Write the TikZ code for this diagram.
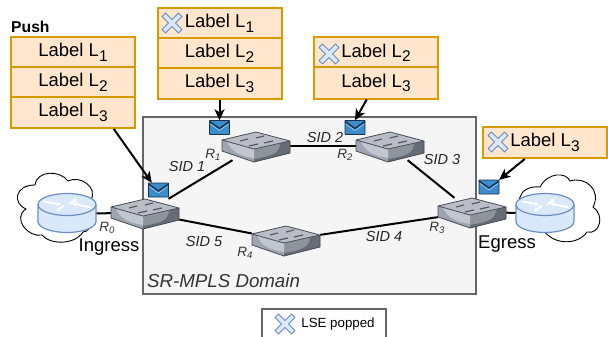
\documentclass[tikz,border=0pt]{standalone}
\usepackage{fontspec}
\setmainfont{Liberation Sans}
\usetikzlibrary{arrows.meta}
\definecolor{lblfill}{HTML}{FFE6CC}
\definecolor{lbldraw}{HTML}{D79B00}
\definecolor{bluefill}{HTML}{DAE8FC}
\definecolor{bluedraw}{HTML}{6C8EBF}
\definecolor{envfill}{HTML}{3C8DCB}
\definecolor{envdraw}{HTML}{17324A}
\definecolor{swtop}{HTML}{B9BDC7}
\definecolor{swleft}{HTML}{9EA4B0}
\definecolor{swleftb}{HTML}{C2C6CF}
\definecolor{swright}{HTML}{8F949B}
\definecolor{swdark}{HTML}{666C75}
\definecolor{swedge}{HTML}{4A4E55}
\newcommand{\lab}[1]{Label L\raisebox{-4.5pt}{\fontsize{15.5}{15}\selectfont #1}}
\newcommand{\rname}[2]{#1\raisebox{-2.5pt}{\fontsize{9.5}{10}\selectfont #2}}
\tikzset{
  x=1pt,y=-1pt,
  stackrow/.style={draw=lbldraw,fill=lblfill,line width=2pt,minimum width=124pt,inner sep=0pt,font=\fontsize{18.5}{20}\selectfont},
  rowa/.style={stackrow,minimum height=31pt},
  swnode/.style={minimum width=68pt,minimum height=28pt,inner sep=0pt},
  envnode/.style={minimum width=20pt,minimum height=14pt,inner sep=0pt},
  rtnode/.style={minimum width=58pt,minimum height=40pt,inner sep=0pt},
  link/.style={line width=2pt,black},
  flow/.style={line width=2pt,black,-{Stealth[length=11pt,width=10pt,inset=3pt]}},
  sidlabel/.style={font=\fontsize{14.5}{16}\selectfont\itshape,text=black!85,inner sep=0pt},
  rlabel/.style={font=\fontsize{13.5}{15}\selectfont\itshape,text=black!80,inner sep=0pt},
  biglabel/.style={font=\fontsize{18.5}{20}\selectfont,inner sep=0pt},
  switchpic/.pic={
    \fill[swleft] (-34,-6) -- (-2,3) -- (-2,16) -- (-34,5) -- cycle;
    \fill[swright] (-2,3) -- (34,-5) -- (34,7) -- (-2,16) -- cycle;
    \fill[swdark] (24,-3) -- (34,-5) -- (34,7) -- (-2,16) -- (-2,13) .. controls (15,10) and (24,8) .. cycle;
    \fill[swleftb] (-29,-4.5) -- (-2,3) -- (-2,12) .. controls (-15,10) and (-25,6) .. cycle;
    \fill[swtop,draw=swedge,line width=0.8pt,line join=round] (-34,-6) -- (0,-14) -- (34,-5) -- (-2,3) -- cycle;
    \draw[swedge,line width=0.8pt,line join=round] (-34,-6) -- (-34,5) -- (-2,16) -- (34,7) -- (34,-5);
    \draw[black!65,line width=1.2pt] (-16,-5) -- (-8,-7) (0,-8) -- (8,-10) (-7,0) -- (2,-2) (8,-3) -- (17,-5);
  },
  routerpic/.pic={
    \draw[fill=bluefill,draw=bluedraw,line width=1.2pt] (-29,-9) -- (-29,8) arc[start angle=180,end angle=0,x radius=29,y radius=11] -- (29,-9);
    \draw[fill=bluefill,draw=bluedraw,line width=1.2pt] (0,-9) ellipse[x radius=29,y radius=11];
    \draw[white,line width=1.8pt,-{Stealth[length=4.5pt,width=5pt]}] (-23,-12) -- (-6,-9);
    \draw[white,line width=1.8pt,-{Stealth[length=4.5pt,width=5pt]}] (2,-9) -- (10,-15);
    \draw[white,line width=1.8pt,-{Stealth[length=4.5pt,width=5pt]}] (24,-6) -- (5,-10);
    \draw[white,line width=1.8pt,-{Stealth[length=4.5pt,width=5pt]}] (-3,-8) -- (-11,-2);
  },
  crosspic/.pic={
    \draw[fill=bluefill,draw=bluedraw,line width=0.9pt,line join=round]
      (-10,-6.5) -- (-6.5,-10) -- (0,-3.5) -- (6.5,-10) -- (10,-6.5) -- (3.5,0) -- (10,6.5) -- (6.5,10) -- (0,3.5) -- (-6.5,10) -- (-10,6.5) -- (-3.5,0) -- cycle;
  },
  envpic/.pic={
    \draw[fill=envfill,draw=envdraw,line width=0.9pt,line join=round,rounded corners=0.6pt] (-10,-7) rectangle (10,7);
    \draw[envdraw,line width=1.4pt,line join=round] (-10,-6) -- (0,1) -- (10,-6);
    \draw[white!60!envfill,line width=0.6pt,line join=round] (-9,-3.5) -- (0,3) -- (9,-3.5);
  }
}
\begin{document}
\begin{tikzpicture}
\clip (0,0) rectangle (608,337);
\fill[white] (0,0) rectangle (608,337);
% domain
\node[draw=black!60,fill=black!4,line width=2pt,minimum width=333pt,minimum height=177pt,inner sep=0pt] (domain) at (309.5,205.5) {};
\node[biglabel,anchor=west,text=black!80,font=\fontsize{18.7}{20}\selectfont\itshape] (domtxt) at (147,281) {SR-MPLS Domain};
% clouds
\draw[black,line width=0.9pt,fill=white] (35,185) .. controls (37,170) and (60,170) .. (68,181) .. controls (80,175) and (98,187) .. (91,200) .. controls (95,215) and (92,232) .. (83,232) .. controls (75,245) and (50,245) .. (42,235) .. controls (28,238) and (12,218) .. (26,209) .. controls (12,203) and (15,185) .. cycle;
\draw[black,line width=0.9pt,fill=white] (520,197) .. controls (522,190) and (530,186) .. (540,187) .. controls (548,172) and (566,172) .. (570,181) .. controls (585,176) and (602,190) .. (593,207) .. controls (605,215) and (600,235) .. (587,232) .. controls (578,245) and (555,245) .. (545,232) .. controls (530,232) and (515,215) .. cycle;
% anchor nodes
\node[rtnode] (r0) at (67,213.5) {};
\node[rtnode] (r5) at (545,213.5) {};
\node[swnode] (sw0) at (145,213) {};
\node[swnode] (sw1) at (256,146) {};
\node[swnode] (sw2) at (390,146) {};
\node[swnode] (sw3) at (472,212) {};
\node[swnode] (sw4) at (286,240) {};
% links
\draw[link] (r0) -- (sw0);
\draw[link] (sw3) -- (r5);
\draw[link] (sw0) -- (sw1);
\draw[link] (sw1) -- (sw2);
\draw[link] (sw2) -- (sw3);
\draw[link] (sw0) -- (sw4);
\draw[link] (sw4) -- (sw3);
% devices
\pic at (67,213.5) {routerpic};
\pic at (545,213.5) {routerpic};
\pic at (145,213) {switchpic};
\pic at (256,146) {switchpic};
\pic at (390,146) {switchpic};
\pic at (472,212) {switchpic};
\pic at (286,240) {switchpic};
% envelopes
\node[envnode] (e0) at (158.5,190) {};
\node[envnode] (e1) at (219.5,127.5) {};
\node[envnode] (e2) at (355,127.5) {};
\node[envnode] (e3) at (489,187) {};
\pic at (158.5,190) {envpic};
\pic at (219.5,127.5) {envpic};
\pic at (355,127.5) {envpic};
\pic at (489,187) {envpic};
% stacks
\node[rowa] (a1) at (73,52.5) {\lab{1}};
\node[rowa] (a2) at (73,82.5) {\lab{2}};
\node[rowa] (a3) at (73,112.5) {\lab{3}};
\node[rowa] (b1) at (219.5,23.5) {\lab{1}};
\node[rowa] (b2) at (219.5,53.5) {\lab{2}};
\node[rowa] (b3) at (219.5,83.5) {\lab{3}};
\node[rowa] (c1) at (376,53) {\lab{2}};
\node[rowa] (c2) at (376,83) {\lab{3}};
\node[rowa] (d1) at (545,142.5) {\lab{3}};
\pic at (172,23) {crosspic};
\pic at (329,54) {crosspic};
\pic at (498,142) {crosspic};
% arrows
\draw[flow] (a3.-22) -- (e0.133);
\draw[flow] (b3) -- (e1);
\draw[flow] (c2) -- (e2.north);
\draw[flow] (d1) -- (e3.north east);
% labels
\node[anchor=west,inner sep=0pt,font=\fontsize{15.7}{17}\selectfont\bfseries] (push) at (11,27) {Push};
\node[sidlabel] (s1) at (187,167) {SID 1};
\node[sidlabel] (s2) at (325,138) {SID 2};
\node[sidlabel] (s3) at (442,160) {SID 3};
\node[sidlabel] (s4) at (384,237) {SID 4};
\node[sidlabel] (s5) at (204,242) {SID 5};
\node[rlabel] (n0) at (107,228) {\rname{R}{0}};
\node[rlabel] (n1) at (213,155) {\rname{R}{1}};
\node[rlabel] (n2) at (345,155) {\rname{R}{2}};
\node[rlabel] (n3) at (437,228) {\rname{R}{3}};
\node[rlabel] (n4) at (245,253) {\rname{R}{4}};
\node[biglabel] (ing) at (109,247) {Ingress};
\node[biglabel] (egr) at (507,244) {Egress};
% legend
\node[draw=black!60,fill=white,line width=1.2pt,minimum width=124pt,minimum height=32pt,inner sep=0pt] (leg) at (324,325) {};
\pic at (285,324) {crosspic};
\node[inner sep=0pt,font=\fontsize{13.3}{15}\selectfont] (legt) at (338,324.5) {LSE popped};
\end{tikzpicture}
\end{document}
